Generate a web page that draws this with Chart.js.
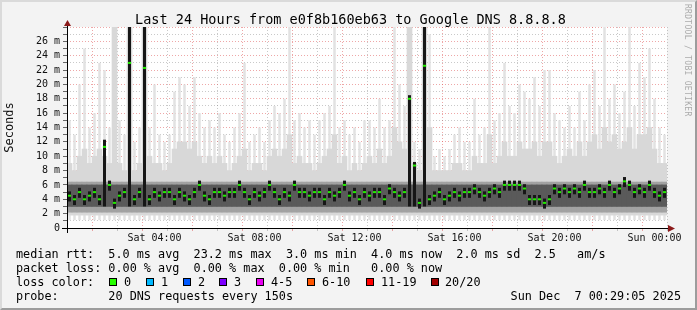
<!DOCTYPE html>
<html>
<head>
<meta charset="utf-8">
<script src="https://cdn.jsdelivr.net/npm/chart.js@4.4.1/dist/chart.umd.min.js"></script>
<style>
html, body { margin: 0; padding: 0; background: #f3f3f3; }
#wrap { position: relative; width: 697px; height: 310px; overflow: hidden; font-family: 'DejaVu Sans Mono', monospace; color: #000; }
#chart { position: absolute; left: 0; top: 0; }
.frame { position: absolute; left: 0; top: 0; width: 697px; height: 310px; box-sizing: border-box; border: 2px solid; border-color: #dadada #9c9c9c #9c9c9c #dadada; pointer-events: none; }
.title { position: absolute; left: 2px; top: 10px; width: 697px; text-align: center; font-size: 13.5px; line-height: 18px; }
.row { position: absolute; left: 16px; font-size: 11.8px; line-height: 14px; white-space: pre; }
.sw { position: absolute; width: 8px; height: 8px; box-sizing: border-box; border: 1px solid #000; }
.lbl { position: absolute; font-size: 11.8px; line-height: 14px; white-space: pre; }
.date { position: absolute; right: 16px; top: 289px; font-size: 11.8px; line-height: 14px; white-space: pre; }
.credit { position: absolute; left: 683px; top: 4px; writing-mode: vertical-rl; font-size: 8px; color: #ababab; letter-spacing: 0.3px; }
</style>
</head>
<body>
<div id="wrap">
  <canvas id="chart" width="697" height="310"></canvas>
  <div class="title">Last 24 Hours from e0f8b160eb63 to Google DNS 8.8.8.8</div>
  <div class="credit">RRDTOOL / TOBI OETIKER</div>
  <div class="row" style="top:247px">median rtt:  5.0 ms avg  23.2 ms max  3.0 ms min  4.0 ms now  2.0 ms sd  2.5   am/s</div>
  <div class="row" style="top:261px">packet loss: 0.00 % avg  0.00 % max  0.00 % min   0.00 % now</div>
  <div class="row" style="top:275px">loss color:</div>
  <div id="loss"></div>
  <div class="row" style="top:289px">probe:       20 DNS requests every 150s</div>
  <div class="date">Sun Dec  7 00:29:05 2025</div>
  <div class="frame"></div>
</div>
<script>
// 12 minute bins, first one starts Sat 00:30
var START_HOUR = 0.5;
var BIN_HOURS = 0.2;

var medianRtt = [
  4.5, 4, 5, 4, 4.5, 5, 4, 11.3, 6, 3.5,
  4.5, 5, 23, 4, 5, 22.3, 4, 5, 4.5, 5,
  5, 4, 5, 4.5, 4, 5, 6, 4.5, 4, 5,
  5, 4.5, 5, 5, 6, 5, 4, 5, 4.5, 5,
  6, 5, 4, 5, 4.5, 6, 5, 5, 4.5, 5,
  5, 4, 5, 4.5, 5, 6, 4.5, 5, 4, 5,
  4.5, 5, 5, 4, 5.5, 5, 4.5, 5, 18, 8.7,
  3.5, 22.6, 4, 4.5, 5, 4, 4.5, 5, 4.5, 5,
  5, 5.5, 5, 4.5, 5, 5.5, 5, 6, 6, 6,
  6, 5.5, 4, 4, 4, 3.5, 4, 5.5, 5, 5.5,
  5, 5.5, 5, 6, 5, 5, 5.5, 5, 6, 5,
  5.5, 6.5, 6, 5, 5.5, 5, 6, 5, 4.5, 5
];

// top of the faint smoke (slowest ping in the bin)
var smokeMax = [
  15, 13, 20, 25, 14, 16, 23, 22, 14, 28,
  15, 13, 28, 12, 14, 28, 14, 20, 13, 12,
  13, 19, 21, 20, 17, 21, 16, 14, 15, 14,
  16, 13, 12, 14, 16, 23, 12, 13, 14, 12,
  15, 17, 16, 18, 28, 15, 16, 14, 15, 13,
  15, 16, 17, 28, 14, 15, 13, 14, 12, 15,
  15, 14, 18, 14, 15, 28, 20, 17, 28, 12,
  11, 28, 27, 10, 11, 10, 11, 13, 14, 12,
  12, 18, 13, 14, 28, 15, 16, 23, 17, 16,
  20, 19, 18, 21, 17, 22, 22, 16, 15, 14,
  17, 14, 19, 15, 20, 22, 17, 28, 18, 20,
  16, 19, 28, 17, 23, 21, 25, 18, 14, 13
];

// top of the denser grey smoke
var smokeHigh = [
  9, 8, 10, 11, 9, 10, 11, 10, 9, 28,
  9, 8, 28, 8, 9, 28, 10, 9, 9, 8,
  9, 11, 12, 12, 11, 12, 10, 9, 10, 9,
  10, 9, 8, 9, 10, 11, 8, 9, 9, 8,
  10, 11, 10, 11, 13, 9, 10, 9, 9, 8,
  9, 10, 11, 13, 9, 10, 8, 9, 8, 9,
  10, 9, 11, 9, 10, 14, 12, 11, 28, 9,
  8, 28, 14, 8, 8, 8, 8, 9, 9, 8,
  8, 10, 9, 9, 13, 9, 10, 12, 10, 10,
  12, 11, 11, 12, 10, 12, 12, 10, 9, 10,
  11, 10, 12, 10, 12, 13, 11, 14, 12, 13,
  11, 12, 14, 11, 13, 13, 14, 11, 9, 9
];

// bins where most pings were slow (black columns)
var spikeBins = [7, 12, 15, 68, 69, 71];
var spikeTops = [12.3, 28, 28, 18.5, 9.2, 28];

var SMOKE_FLOOR = 1.1;
var HAZE_LOW = 1.8;
var BAND_LOW = 2.2, BAND_HIGH = 6.4;
var CORE_LOW = 3.0, CORE_HIGH = 6.0;

var yTicks = [];
for (var v = 0; v <= 28; v++) yTicks.push(v);
var xTicks = [];
for (var h = 1; h <= 24; h++) xTicks.push(h);
var xTickLabels = { 4: 'Sat 04:00', 8: 'Sat 08:00', 12: 'Sat 12:00', 16: 'Sat 16:00', 20: 'Sat 20:00', 24: 'Sun 00:00' };

var lossLabels = ['0', '1', '2', '3', '4-5', '6-10', '11-19', '20/20'];
var lossColors = ['#26ff00', '#00b8ff', '#0059ff', '#7e00ff', '#e800f0', '#ff5500', '#ff0000', '#a10000'];

// loss colour legend
var swatchX = [109, 146, 183, 219, 256, 307, 366, 431];
var labelX = [124, 161, 198, 234, 271, 322, 381, 445];
var loss = document.getElementById('loss');
lossLabels.forEach(function (l, i) {
  var s = document.createElement('div');
  s.className = 'sw';
  s.style.left = swatchX[i] + 'px';
  s.style.top = '278px';
  s.style.background = lossColors[i];
  loss.appendChild(s);
  var t = document.createElement('div');
  t.className = 'lbl';
  t.style.left = labelX[i] + 'px';
  t.style.top = '275px';
  t.textContent = l;
  loss.appendChild(t);
});

var times = medianRtt.map(function (_, i) { return START_HOUR + (i + 0.5) * BIN_HOURS; });

function span(lo, hi) {
  return times.map(function (t, i) { return { x: t, y: [lo(i), hi(i)] }; });
}

var coreData = times.map(function (t, i) {
  var k = spikeBins.indexOf(i);
  if (k >= 0) return { x: t, y: [CORE_LOW, spikeTops[k]] };
  return { x: t, y: [medianRtt[i] - 0.8, medianRtt[i] + 0.6] };
});

var MONO = "'DejaVu Sans Mono', monospace";
var RED_GRID = 'rgba(222, 80, 80, 0.5)';
var GRAY_GRID = 'rgba(120, 120, 120, 0.4)';

var framePlugin = {
  id: 'framePlugin',
  beforeDraw: function (chart) {
    var ctx = chart.ctx, a = chart.chartArea;
    ctx.save();
    ctx.fillStyle = '#ffffff';
    ctx.fillRect(a.left, a.top, a.right - a.left, a.bottom - a.top);
    ctx.restore();
  },
  afterDraw: function (chart) {
    var ctx = chart.ctx, a = chart.chartArea;
    ctx.save();
    ctx.strokeStyle = '#000';
    ctx.lineWidth = 1;
    ctx.beginPath();
    ctx.moveTo(a.left - 5, a.bottom + 0.5);
    ctx.lineTo(a.right + 3, a.bottom + 0.5);
    ctx.moveTo(a.left + 0.5, a.bottom + 5);
    ctx.lineTo(a.left + 0.5, a.top - 3);
    ctx.stroke();
    ctx.fillStyle = '#8b1a1a';
    ctx.beginPath();
    ctx.moveTo(a.right + 8, a.bottom + 0.5);
    ctx.lineTo(a.right + 1, a.bottom - 3);
    ctx.lineTo(a.right + 1, a.bottom + 4);
    ctx.closePath();
    ctx.fill();
    ctx.beginPath();
    ctx.moveTo(a.left + 0.5, a.top - 7);
    ctx.lineTo(a.left - 3, a.top - 1);
    ctx.lineTo(a.left + 4, a.top - 1);
    ctx.closePath();
    ctx.fill();
    ctx.restore();
  }
};

function barSet(data, color, order, pct) {
  return {
    type: 'bar',
    data: data,
    backgroundColor: color,
    borderWidth: 0,
    grouped: false,
    barPercentage: pct || 1,
    categoryPercentage: 1,
    order: order
  };
}

new Chart(document.getElementById('chart'), {
  type: 'bar',
  data: {
    datasets: [
      {
        type: 'line',
        data: times.map(function (t, i) { return { x: t, y: medianRtt[i] }; }),
        showLine: false,
        pointStyle: 'line',
        pointRadius: 1.6,
        pointBorderWidth: 2,
        pointBorderColor: '#22ee00',
        pointBackgroundColor: '#22ee00',
        order: 0
      },
      barSet(coreData, '#161616', 1, 0.6),
      barSet(span(function () { return CORE_LOW; }, function () { return CORE_HIGH; }), '#5a5a5a', 2),
      barSet(span(function () { return BAND_LOW; }, function () { return BAND_HIGH; }), '#a2a2a2', 3),
      barSet(span(function () { return HAZE_LOW; }, function (i) { return smokeHigh[i]; }), '#d8d8d8', 4),
      barSet(span(function () { return SMOKE_FLOOR; }, function (i) { return smokeMax[i]; }), '#e2e2e2', 5, 0.5)
    ]
  },
  options: {
    responsive: false,
    animation: false,
    events: [],
    layout: { padding: { left: 0, right: 30, top: 27, bottom: 62 } },
    plugins: { legend: { display: false }, tooltip: { enabled: false }, title: { display: false } },
    scales: {
      x: {
        type: 'linear',
        min: 0.5,
        max: 24.5,
        offset: false,
        z: 1,
        afterBuildTicks: function (s) { s.ticks = xTicks.map(function (v) { return { value: v }; }); },
        afterFit: function (s) { s.height = 20; },
        grid: {
          color: function (c) { return c.tick && c.tick.value % 2 === 0 ? RED_GRID : GRAY_GRID; },
          tickColor: function (c) { return c.tick && c.tick.value % 2 === 0 ? RED_GRID : GRAY_GRID; },
          tickLength: 3,
          lineWidth: 1
        },
        border: { display: false, dash: [1, 2] },
        ticks: {
          autoSkip: false,
          maxRotation: 0,
          padding: 1,
          color: '#111',
          font: { family: MONO, size: 10 },
          callback: function (v) { return xTickLabels[v] || ''; }
        }
      },
      y: {
        type: 'linear',
        min: 0,
        max: 28,
        z: 1,
        afterBuildTicks: function (s) { s.ticks = yTicks.map(function (v) { return { value: v }; }); },
        afterFit: function (s) { s.width = 67; },
        grid: {
          color: function (c) { return c.tick && c.tick.value % 2 === 0 ? RED_GRID : GRAY_GRID; },
          tickColor: '#666',
          tickLength: 4,
          lineWidth: 1
        },
        border: { display: false, dash: [1, 2] },
        title: { display: true, text: 'Seconds', color: '#111', font: { family: MONO, size: 12 }, padding: { top: 3, bottom: 0 } },
        ticks: {
          autoSkip: false,
          padding: 3,
          color: '#111',
          font: { family: MONO, size: 10 },
          callback: function (v) {
            if (v % 2 !== 0 || v === 28) return '';
            return v === 0 ? '0' : v + ' m';
          }
        }
      }
    }
  },
  plugins: [framePlugin]
});
</script>
</body>
</html>
